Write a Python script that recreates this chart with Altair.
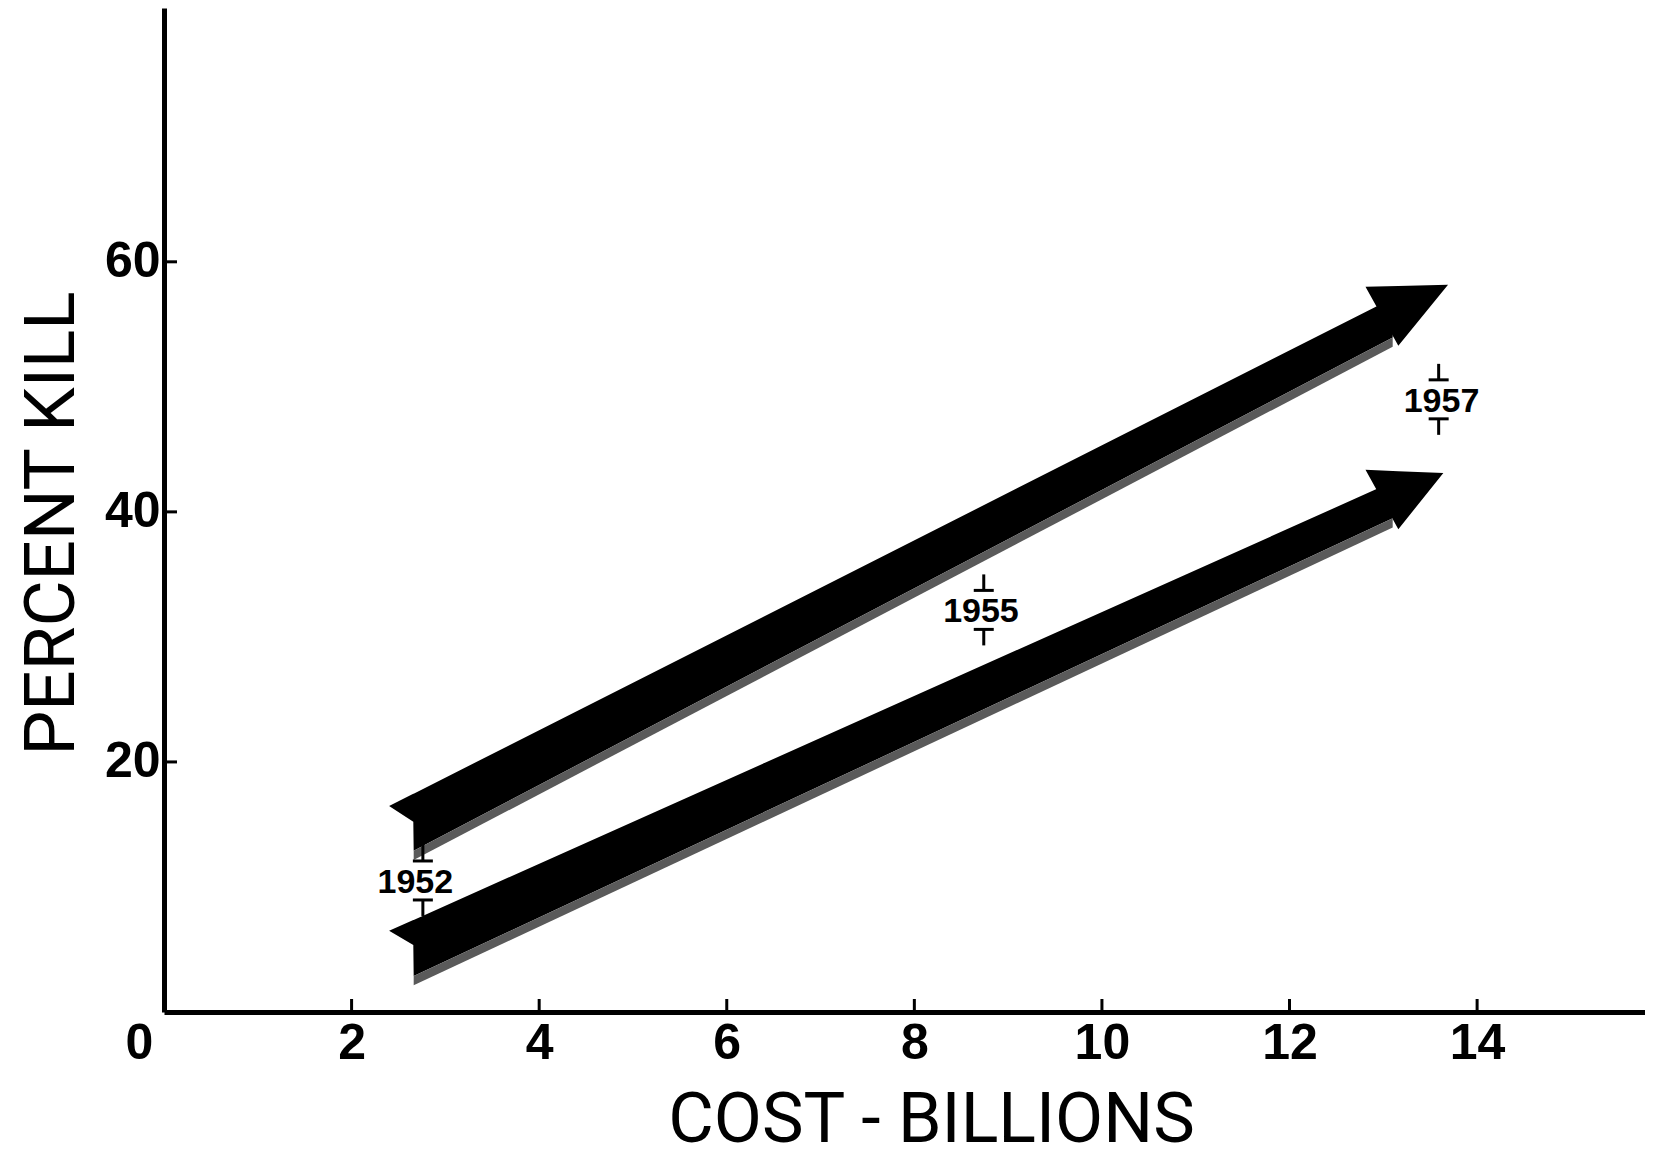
import altair as alt
import pandas as pd

# ---- axis ticks ----
x_ticks = [0, 2, 4, 6, 8, 10, 12, 14]
x_tick_marks = [2, 4, 6, 8, 10, 12, 14]
y_ticks = [20, 40, 60]

# ---- arrow outlines (x, upper edge, lower edge) in data units ----
upper_body_x = [2.40, 2.658, 2.662, 13.10]
upper_body_top = [16.48, 17.46, 17.46, 57.09]
upper_body_bot = [16.48, 15.22, 12.90, 53.95]
upper_head_x = [12.81, 13.16, 13.69]
upper_head_top = [58.00, 58.06, 58.16]
upper_head_bot = [58.00, 53.28, 58.16]

lower_body_x = [2.40, 2.658, 2.662, 13.10]
lower_body_top = [6.50, 7.36, 7.36, 42.40]
lower_body_bot = [6.50, 5.36, 2.88, 39.50]
lower_head_x = [12.81, 13.16, 13.64]
lower_head_top = [43.36, 43.25, 43.10]
lower_head_bot = [43.36, 38.62, 43.10]

# ---- year markers ----
years = ["1952", "1955", "1957"]
year_text_x = [2.68, 8.71, 13.62]
year_mark_x = [2.76, 8.74, 13.59]
year_y = [10.48, 32.12, 48.96]

# ---- build tables ----
parts = [
    ("upper_body", upper_body_x, upper_body_top, upper_body_bot),
    ("upper_head", upper_head_x, upper_head_top, upper_head_bot),
    ("lower_body", lower_body_x, lower_body_top, lower_body_bot),
    ("lower_head", lower_head_x, lower_head_top, lower_head_bot),
]
rows = []
for name, xs_, tops, bots in parts:
    for i, (xv, t, b) in enumerate(zip(xs_, tops, bots)):
        rows.append({"part": name, "i": i, "x": xv, "top": t, "bot": b})
shape_df = pd.DataFrame(rows)

shadow_df = shape_df[shape_df["part"].str.endswith("body") & (shape_df["i"] >= 2)].copy()
shadow_df["hi"] = shadow_df["bot"]
shadow_df["lo"] = shadow_df["bot"] - 0.75

year_df = pd.DataFrame({"year": years, "tx": year_text_x, "mx": year_mark_x, "y": year_y})
xt_df = pd.DataFrame({"t": x_tick_marks, "z": [0] * len(x_tick_marks)})
yt_df = pd.DataFrame({"t": y_ticks, "z": [0] * len(y_ticks)})

W, H = 1481, 1004
xs = alt.Scale(domain=[0, 15.79], nice=False, zero=False)
ys = alt.Scale(domain=[0, 80.3], nice=False, zero=False)

x_axis = alt.Axis(
    values=x_ticks, ticks=False, tickSize=0, grid=False,
    domainColor="black", domainWidth=5,
    labelFont="Liberation Sans", labelFontWeight="bold", labelFontSize=50,
    labelColor="black", labelPadding=6, labelFlush=False, labelOverlap=False,
    labelOffset={"condition": {"test": "datum.value === 0", "value": -25}, "value": 0},
    title="COST - BILLIONS", titleFont="Roboto", titleFontSize=70,
    titleFontWeight="normal", titleColor="black",
    titleX=767, titleY=129, titleBaseline="alphabetic", titleAlign="center",
)
y_axis = alt.Axis(
    values=y_ticks, ticks=False, tickSize=0, grid=False,
    domainColor="black", domainWidth=5,
    labelFont="Liberation Sans", labelFontWeight="bold", labelFontSize=50,
    labelColor="black", labelPadding=4, labelFlush=False, labelOverlap=False,
    title="PERCENT KILL", titleFont="Roboto", titleFontSize=71,
    titleFontWeight="normal", titleColor="black", titleAngle=270,
    titleX=-112, titleY=515, titleBaseline="middle", titleAlign="center",
)


def X(field):
    return alt.X(field, scale=xs, axis=x_axis)


def Y(field):
    return alt.Y(field, scale=ys, axis=y_axis)


shadow = alt.Chart(shadow_df).mark_area(color="#5a5a5a").encode(
    x=X("x:Q"), y=Y("lo:Q"), y2="hi:Q", detail="part:N",
)

arrows = alt.Chart(shape_df).mark_area(color="black").encode(
    x=X("x:Q"), y=Y("bot:Q"), y2="top:Q", detail="part:N",
)

x_tick_rules = alt.Chart(xt_df).mark_rule(color="black", strokeWidth=3, y2Offset=-13).encode(
    x=X("t:Q"), y=Y("z:Q"), y2="z:Q",
)
y_tick_rules = alt.Chart(yt_df).mark_rule(color="black", strokeWidth=3, x2Offset=13).encode(
    x=X("z:Q"), x2="z:Q", y=Y("t:Q"),
)

year_text = alt.Chart(year_df).mark_text(
    font="Liberation Sans", fontWeight="bold", fontSize=34,
    baseline="middle", align="center", color="black", dy=2,
).encode(
    x=X("tx:Q"), y=Y("y:Q"), text="year:N",
)


def bar(y_off):
    return alt.Chart(year_df).mark_rule(
        color="black", strokeWidth=3, xOffset=-10, x2Offset=10, yOffset=y_off, y2Offset=y_off
    ).encode(
        x=X("mx:Q"), x2="mx:Q", y=Y("y:Q"), y2="y:Q",
    )


def stem(y0, y1):
    return alt.Chart(year_df).mark_rule(
        color="black", strokeWidth=3, yOffset=y0, y2Offset=y1
    ).encode(
        x=X("mx:Q"), y=Y("y:Q"), y2="y:Q",
    )


chart = alt.layer(
    arrows, shadow, x_tick_rules, y_tick_rules, year_text,
    bar(-20), stem(-36, -20), bar(19), stem(19, 35),
).properties(
    width=W, height=H,
    autosize=alt.AutoSizeParams(type="none"),
    padding={"left": 156, "top": 0, "right": 0, "bottom": 132},
    background="white",
).configure_view(stroke=None)

chart.save("out.html", embed_options={"renderer": "svg", "actions": False})
